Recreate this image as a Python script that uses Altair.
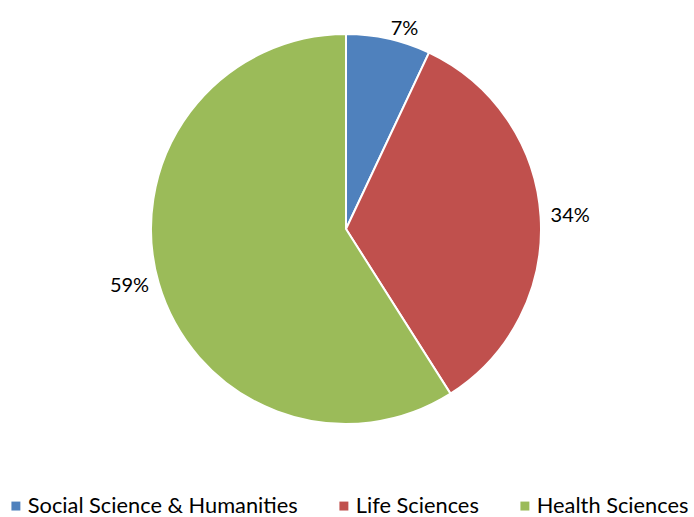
import altair as alt
import pandas as pd

categories = ["Social Science & Humanities", "Life Sciences", "Health Sciences"]
values = [7, 34, 59]
labels = ["7%", "34%", "59%"]
colors = ["#4F81BD", "#C0504D", "#9BBB59"]

df = pd.DataFrame({"category": categories, "value": values, "label": labels,
                   "order": [0, 1, 2]})

FONT = "Lato"

base = alt.Chart(df).encode(
    theta=alt.Theta("value:Q", stack=True),
    order=alt.Order("order:Q"),
)

pie = base.mark_arc(radius=195, stroke="white", strokeWidth=2).encode(
    color=alt.Color(
        "category:N",
        scale=alt.Scale(domain=categories, range=colors),
        sort=categories,
        legend=alt.Legend(
            title=None,
            orient="none",
            legendX=5,
            legendY=495,
            direction="horizontal",
            symbolType="square",
            symbolSize=80,
            symbolStrokeWidth=0,
            labelFont=FONT,
            labelFontSize=21.8,
            labelLimit=500,
            labelColor="#000000",
            columnPadding=35,
            labelOffset=1,
        ),
    )
)

text_style = dict(radius=205, font=FONT, fontSize=20, color="#000000", baseline="middle")

text_right_side = base.mark_text(align="left", **text_style).encode(
    text="label:N",
    opacity=alt.condition("datum.order < 2", alt.value(1), alt.value(0)),
)
text_left_side = base.mark_text(align="right", **text_style).encode(
    text="label:N",
    opacity=alt.condition("datum.order == 2", alt.value(1), alt.value(0)),
)

chart = alt.layer(pie, text_right_side, text_left_side).properties(
    width=692,
    height=458,
    padding={"left": 0, "top": 0, "right": 2, "bottom": 59},
    autosize=alt.AutoSizeParams(type="none"),
).configure_view(stroke=None)

chart.save("out.html", embed_options={"renderer": "svg", "actions": False})
